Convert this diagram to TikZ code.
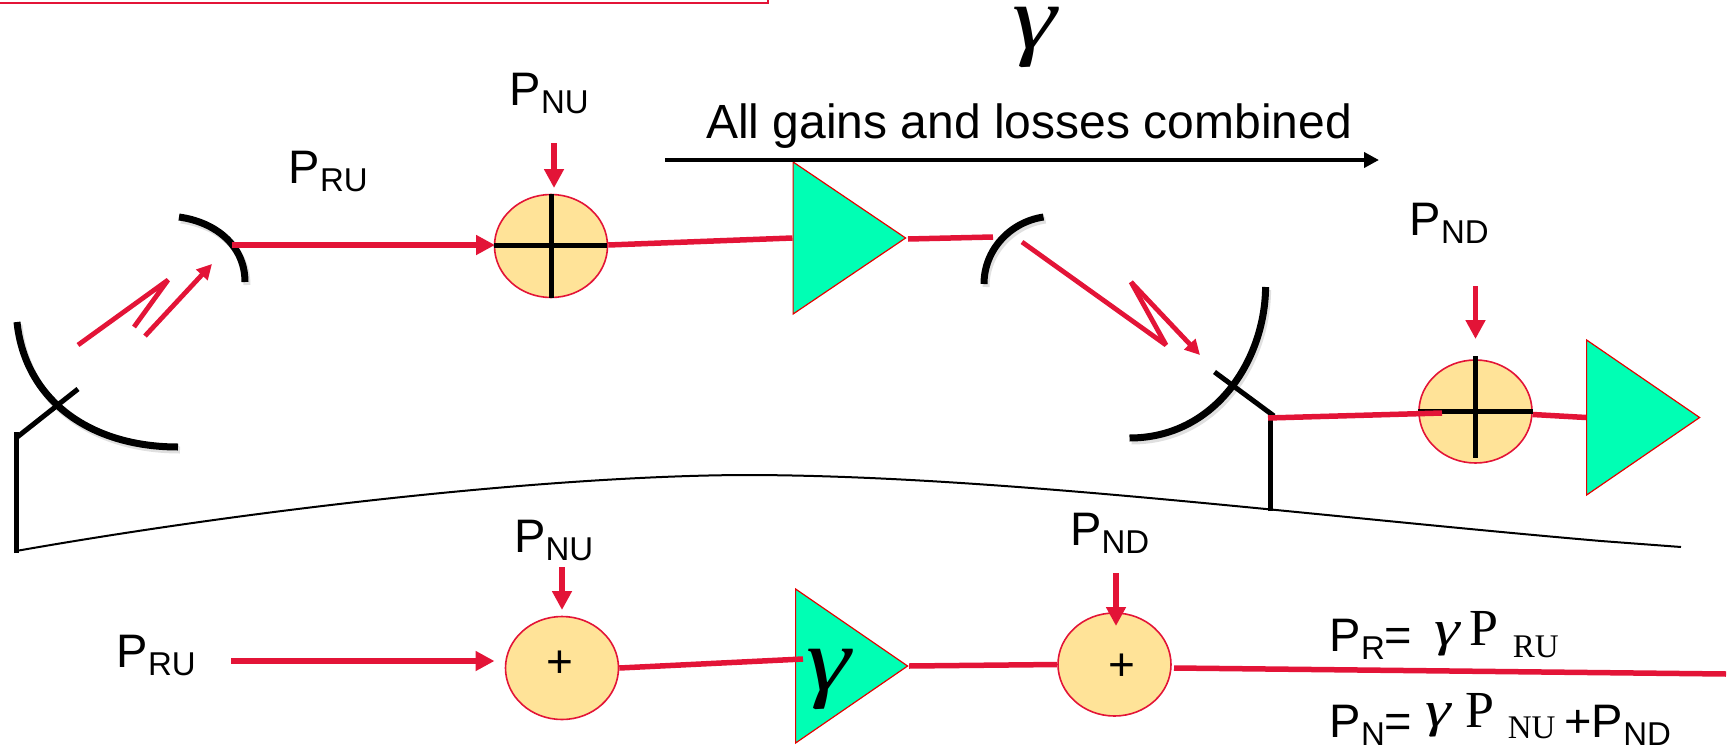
\documentclass[tikz,border=0pt]{standalone}
\usepackage{fontspec}
\setmainfont{Liberation Sans}
\newfontfamily\serifgr{Liberation Serif}
\usetikzlibrary{arrows.meta,shapes.geometric}
\definecolor{redl}{HTML}{E31437}
\definecolor{sumfill}{HTML}{FFE398}
\definecolor{ampfill}{HTML}{00FFB4}
\newcommand{\fbig}{\fontsize{47}{50}\selectfont}
\newcommand{\fsub}{\fontsize{33}{36}\selectfont}
\newcommand{\plab}[2]{{\fbig #1}\raisebox{-8pt}{\fsub #2}}
\newcommand{\sgam}{\scalebox{1.3}[1]{\serifgr\itshape\fontsize{50}{54}\selectfont γ}}
\newcommand{\bgam}{\scalebox{1.25}[1]{\serifgr\itshape\fontsize{90}{94}\selectfont γ}}
\tikzset{
 redln/.style={draw=redl,line width=5.5pt},
 redthin/.style={draw=redl,line width=4.8pt},
 redarr/.style={redln,-{Triangle[length=19pt,width=19pt]}},
 redsm/.style={redthin,-{Triangle[length=15pt,width=15pt]}},
 blk/.style={draw=black,line width=5pt},
 dish/.style={draw=black,line width=7pt},
 dishsh/.style={draw=black,opacity=0.12,line width=7pt,shift={(2pt,-3pt)}},
 sumn/.style={ellipse,draw=redl,line width=1.6pt,fill=sumfill,inner sep=0pt,minimum width=113pt,minimum height=103pt},
 amp/.style={isosceles triangle,isosceles triangle stretches,shape border rotate=0,draw=red!90!black,line width=1.2pt,fill=ampfill,inner sep=0pt,anchor=lower side},
 txt/.style={inner sep=0pt,anchor=base west},
 plus/.style={inner sep=0pt,font=\fontsize{46}{50}\selectfont},
}
\begin{document}
\begin{tikzpicture}[x=1pt,y=-1pt]
\useasboundingbox (0,0) rectangle (1733,747);
% frame remnant
\coordinate (fa) at (0,3); \coordinate (fb) at (768,3); \coordinate (fc) at (768,0);
\draw[draw=redl,line width=2.5pt] (fa) -- (fb) -- (fc);

% dishes and mounts, shadows first
\draw[dishsh] (17,322) .. controls (25,400) and (90,447) .. (178,447);
\draw[dishsh] (179,217) .. controls (215,222) and (245,245) .. (245,282);
\draw[dishsh] (1043.5,217) .. controls (1010,222) and (984,250) .. (984,284);
\draw[dishsh] (1265.6,287) .. controls (1265,360) and (1215,438) .. (1129.5,438);
\coordinate (d1a) at (17,322); \coordinate (d1b) at (178,447);
\coordinate (d2a) at (179,217); \coordinate (d2b) at (245,282);
\coordinate (d3a) at (1043.5,217); \coordinate (d3b) at (984,284);
\coordinate (d4a) at (1265.6,287); \coordinate (d4b) at (1129.5,438);
\draw[dish] (d1a) .. controls (25,400) and (90,447) .. (d1b);
\draw[dish] (d2a) .. controls (215,222) and (245,245) .. (d2b);
\draw[dish] (d3a) .. controls (1010,222) and (984,250) .. (d3b);
\draw[dish] (d4a) .. controls (1265,360) and (1215,438) .. (d4b);

% ground curve
\coordinate (g0) at (16,551); \coordinate (g1) at (751,475); \coordinate (g2) at (1601,541); \coordinate (g3) at (1681,547);
\draw[draw=black,line width=2pt] (g0) .. controls (260,508) and (560,475) .. (g1) .. controls (1000,476) and (1300,515) .. (g2) -- (g3);

% left mount
\coordinate (m1a) at (16,553); \coordinate (m1b) at (16,432); \coordinate (m1c) at (16,438); \coordinate (m1d) at (78,389);
\draw[blk] (m1a) -- (m1b);
\draw[blk] (m1c) -- (m1d);
% right mount
\coordinate (m2a) at (1270,511); \coordinate (m2b) at (1270,416); \coordinate (m2c) at (1274,416); \coordinate (m2d) at (1214.5,372);
\draw[blk] (m2a) -- (m2b);
\draw[blk] (m2c) -- (m2d);

% amplifiers
\node[amp,minimum height=112.5pt,minimum width=152pt] (amp1) at (792.5,238) {};
\node[amp,minimum height=113pt,minimum width=155pt] (amp2) at (1586,417.5) {};
\node[amp,minimum height=112pt,minimum width=154pt] (amp3) at (795,666) {};

% summers
\node[sumn] (s1) at (551,246) {};
\node[sumn] (s2) at (1475.5,411.5) {};
\node[sumn] (s3) at (562,668) {};
\node[sumn] (s4) at (1114.5,664.5) {};
\node[plus] (pl3) at (560,664) {+};
\node[plus] (pl4) at (1122,667) {+};

% upper chain connectors
\coordinate (r1a) at (231.5,245); \coordinate (r1b) at (495,245);
\draw[redarr] (r1a) -- (r1b);
\draw[redln] (s1.east) ++(0,-1) -- (amp1.lower side);
\coordinate (r2a) at (908,239); \coordinate (r2b) at (993,237);
\draw[redln] (r2a) -- (r2b);
% reflected beams, left
\coordinate (z1a) at (78,345); \coordinate (z1b) at (168,280); \coordinate (z1c) at (134,327);
\coordinate (z1d) at (145,336); \coordinate (z1e) at (212,264);
\draw[redthin,miter limit=2] (z1a) -- (z1b) -- (z1c);
\draw[redsm] (z1d) -- (z1e);
% reflected beams, right
\coordinate (z2a) at (1022,242); \coordinate (z2b) at (1166,345); \coordinate (z2c) at (1131,282); \coordinate (z2d) at (1200,355);
\draw[redthin,miter limit=2] (z2a) -- (z2b) -- (z2c);
\draw[redsm] (z2c) -- (z2d);
% right chain
\coordinate (r3a) at (1268,418); \coordinate (r3b) at (1442,413);
\draw[redln] (s2.east) ++(0,3) -- (amp2.lower side);

% crosses in the upper summers
\draw[blk] (s1.north) -- (s1.south);
\draw[blk] (s1.west) ++(0,-1) -- ++(113,0);
\coordinate (c2t) at (1475.5,356); \coordinate (c2b) at (1475.5,458);
\draw[blk] (c2t) -- (c2b);
\draw[blk] (s2.west) -- (s2.east);
\draw[redln] (r3a) -- (r3b);

% input arrows
\coordinate (a1) at (554,143); \coordinate (a1e) at (554,188); \draw[redarr] (a1) -- (a1e);
\coordinate (a2) at (1475.5,286); \coordinate (a2e) at (1475.5,339); \draw[redarr] (a2) -- (a2e);
\coordinate (a3) at (562,567); \coordinate (a3e) at (562,610); \draw[redarr] (a3) -- (a3e);
\coordinate (a4) at (1116,573); \coordinate (a4e) at (1116,626); \draw[redarr] (a4) -- (a4e);

% black span arrow
\coordinate (b1) at (665,160); \coordinate (b2) at (1379,160);
\draw[draw=black,line width=4pt,-{Triangle[length=15pt,width=15pt]}] (b1) -- (b2);

% lower chain connectors
\coordinate (r4a) at (231,661); \coordinate (r4b) at (494.5,661);
\draw[redarr] (r4a) -- (r4b);
\coordinate (r5b) at (803,659);
\draw[redln] (s3.east) -- (r5b);
\draw[redln] (amp3.apex) -- (s4.west);
\coordinate (r6a) at (1174,668); \coordinate (r6b) at (1726,674);
\draw[redln] (r6a) -- (r6b);

% labels
\node[txt] (tnu) at (509.5,105) {\plab{P}{NU}};
\node[txt] (tru) at (288.5,183) {\plab{P}{RU}};
\node[txt] (tnd) at (1409.5,235) {\plab{P}{ND}};
\node[txt] (bnu) at (514,552) {\plab{P}{NU}};
\node[txt] (bnd) at (1070,545) {\plab{P}{ND}};
\node[txt] (bru) at (116.5,667) {\plab{P}{RU}};
\node[txt,font=\fontsize{48}{52}\selectfont] (all) at (706,138) {All gains and losses combined};
\node[txt] (gtop) at (1012,48) {\bgam};
\node[txt] (gamp) at (806,690) {\bgam};
\node[txt] (eqr) at (1329.5,651) {\plab{P}{R}{\fbig=}\hspace{22pt}\raisebox{6pt}{\sgam}\hspace{10pt}\raisebox{6pt}{\serifgr\fontsize{52}{56}\selectfont P}\hspace{14pt}\raisebox{-6pt}{\serifgr\fontsize{33}{36}\selectfont RU}};
\node[txt] (eqn) at (1329.5,737) {\plab{P}{N}{\fbig=}\hspace{13pt}\raisebox{11pt}{\sgam}\hspace{15pt}\raisebox{10pt}{\serifgr\fontsize{52}{56}\selectfont P}\hspace{13pt}\raisebox{-1pt}{\serifgr\fontsize{33}{36}\selectfont NU}\hspace{9pt}{\fbig +P}\raisebox{-8pt}{\fsub ND}};
\end{tikzpicture}
\end{document}
